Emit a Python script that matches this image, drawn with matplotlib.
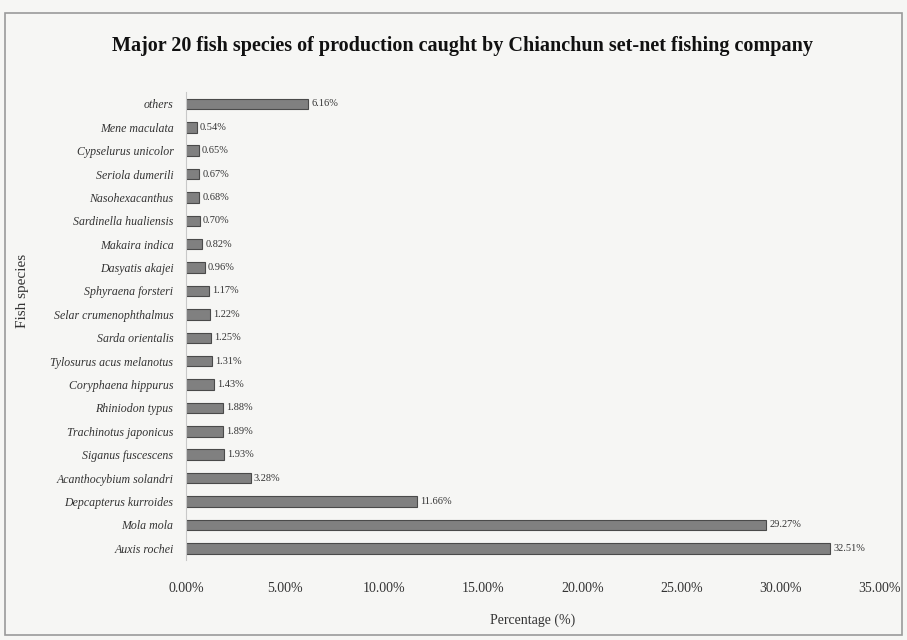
import matplotlib.pyplot as plt
from matplotlib.patches import Rectangle

# data (bottom to top)
species = ["Auxis rochei", "Mola mola", "Depcapterus kurroides", "Acanthocybium solandri",
           "Siganus fuscescens", "Trachinotus japonicus", "Rhiniodon typus",
           "Coryphaena hippurus", "Tylosurus acus melanotus", "Sarda orientalis",
           "Selar crumenophthalmus", "Sphyraena forsteri", "Dasyatis akajei",
           "Makaira indica", "Sardinella hualiensis", "Nasohexacanthus",
           "Seriola dumerili", "Cypselurus unicolor", "Mene maculata", "others"]
percent = [32.51, 29.27, 11.66, 3.28, 1.93, 1.89, 1.88, 1.43, 1.31, 1.25,
           1.22, 1.17, 0.96, 0.82, 0.70, 0.68, 0.67, 0.65, 0.54, 6.16]
xticks = [0, 5, 10, 15, 20, 25, 30, 35]

plt.rcParams['font.family'] = ['Liberation Serif', 'DejaVu Serif']

fig = plt.figure(figsize=(9.07, 6.4), dpi=100)
fig.patch.set_facecolor('#f6f6f4')
# outer frame
fig.patches.append(Rectangle((0.006, 0.008), 0.988, 0.972, transform=fig.transFigure,
                             fill=False, edgecolor='#9a9a9a', linewidth=1.2))

ax = fig.add_axes([0.205, 0.125, 0.765, 0.731])
ax.set_facecolor('none')

ypos = range(len(species))
ax.barh(ypos, percent, height=0.45, color='#808080', edgecolor='#4a4a4a', linewidth=0.8)

for y, v in zip(ypos, percent):
    ax.text(v + 0.15, y, f"{v:.2f}%", va='center', ha='left', fontsize=7.5, color='#333333')

ax.set_xlim(0, 35)
ax.set_ylim(-0.5, 19.5)
ax.set_yticks(list(ypos))
ax.set_yticklabels(species, fontstyle='italic', fontsize=8.6, color='#333333')
ax.set_xticks(xticks)
ax.set_xticklabels([f"{t:.2f}%" for t in xticks], fontsize=10, color='#333333')
ax.tick_params(axis='both', length=0)
ax.tick_params(axis='x', pad=16)
ax.tick_params(axis='y', pad=9)

for s in ['top', 'right', 'bottom']:
    ax.spines[s].set_visible(False)
ax.spines['left'].set_color('#c8c8c8')

ax.set_xlabel("Percentage (%)", fontsize=10, color='#333333', labelpad=13)
fig.text(0.025, 0.545, "Fish species", rotation=90, va='center', ha='center',
         fontsize=11, color='#333333')
fig.text(0.51, 0.928, "Major 20 fish species of production caught by Chianchun set-net fishing company",
         ha='center', va='center', fontsize=14.5, fontweight='bold', color='#111111')

fig.savefig("out.png", dpi=100, facecolor=fig.get_facecolor())
